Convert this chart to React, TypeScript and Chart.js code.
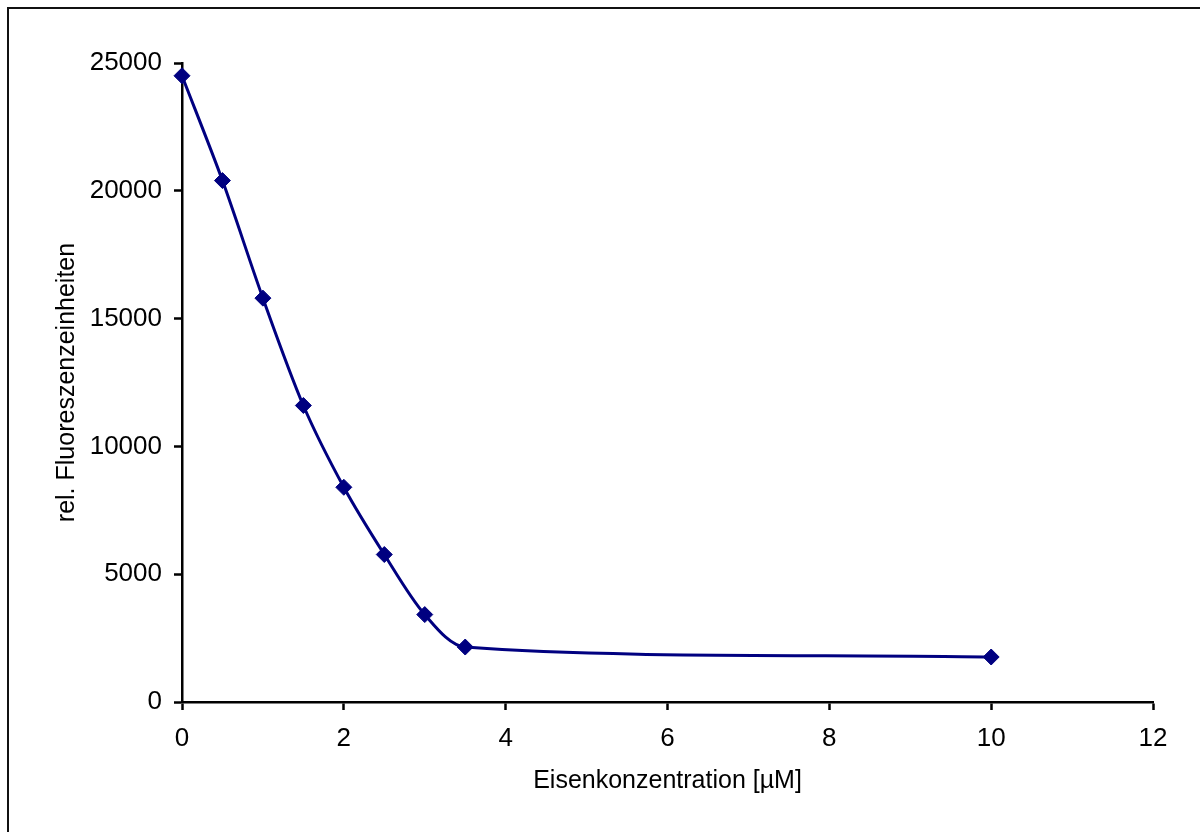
import React, { useEffect, useRef } from "react";
import { Chart, registerables } from "chart.js";

Chart.register(...registerables);

const concentrations = [0, 0.5, 1, 1.5, 2, 2.5, 3, 3.5, 10];
const fluorescence = [24500, 20400, 15800, 11600, 8400, 5770, 3420, 2150, 1760];
const xTitle = "Eisenkonzentration [µM]";
const yTitle = "rel. Fluoreszenzeinheiten";

const FONT = "'Liberation Sans', Arial, Helvetica, sans-serif";

export default function App() {
  const ref = useRef<HTMLCanvasElement | null>(null);

  useEffect(() => {
    document.body.style.overflow = "hidden";
    const ctx = ref.current;
    if (!ctx) return;
    const chart = new Chart(ctx, {
      type: "line",
      data: {
        datasets: [
          {
            data: concentrations.map((x, i) => ({ x, y: fluorescence[i] })),
            borderColor: "#000080",
            backgroundColor: "#000080",
            borderWidth: 3,
            tension: 0.3,
            clip: false,
            pointStyle: "rectRot",
            pointRadius: 8,
            pointBorderWidth: 1,
            pointBackgroundColor: "#000080",
            pointBorderColor: "#000080",
            fill: false,
          },
        ],
      },
      options: {
        animation: false,
        responsive: false,
        devicePixelRatio: 1,
        layout: { padding: { left: 0, top: 63, right: 47, bottom: 0 } },
        plugins: {
          legend: { display: false },
          tooltip: { enabled: false },
        },
        scales: {
          x: {
            type: "linear",
            min: 0,
            max: 12,
            ticks: {
              stepSize: 2,
              color: "#000",
              padding: 13,
              font: { family: FONT, size: 26 },
              maxRotation: 0,
              callback: (v: any) => String(v),
            },
            grid: {
              display: true,
              drawOnChartArea: false,
              drawTicks: true,
              tickLength: 8,
              tickWidth: 2.5,
              tickColor: "#000",
            },
            border: { display: true, color: "#000", width: 2.5 },
            title: {
              display: true,
              text: xTitle,
              color: "#000",
              font: { family: FONT, size: 25 },
              padding: { top: 0, bottom: 36 },
            },
            afterFit: (scale: any) => {
              scale.height = 130;
            },
          },
          y: {
            type: "linear",
            min: 0,
            max: 25000,
            ticks: {
              stepSize: 5000,
              color: "#000",
              padding: 12,
              font: { family: FONT, size: 26 },
              callback: (v: any) => String(v),
            },
            grid: {
              display: true,
              drawOnChartArea: false,
              drawTicks: true,
              tickLength: 8,
              tickWidth: 2.5,
              tickColor: "#000",
            },
            border: { display: true, color: "#000", width: 2.5 },
            title: {
              display: true,
              text: yTitle,
              color: "#000",
              font: { family: FONT, size: 25 },
              padding: { top: 52, bottom: 0 },
            },
            afterFit: (scale: any) => {
              scale.width = 182;
            },
          },
        },
      },
    });
    return () => chart.destroy();
  }, []);

  return (
    <>
      <div style={{ position: "fixed", left: 0, top: 0, width: 1200, height: 832, background: "#fff" }}>
        <canvas ref={ref} width={1200} height={832} style={{ display: "block" }} />
      </div>
      <div
        style={{
          position: "fixed",
          left: 7,
          top: 7,
          width: 1210,
          height: 840,
          border: "2px solid #111",
          pointerEvents: "none",
        }}
      />
    </>
  );
}
